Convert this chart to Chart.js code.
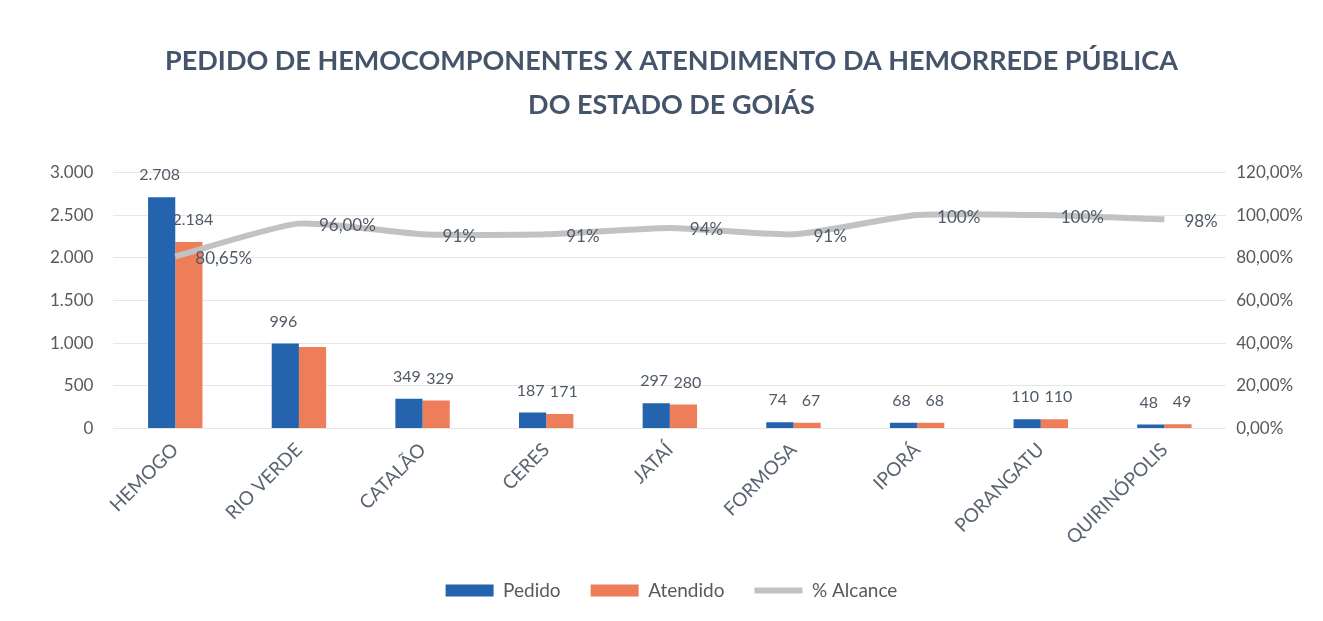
<!DOCTYPE html>
<html lang="pt-BR">
<head>
<meta charset="utf-8">
<title>Pedido de hemocomponentes x atendimento</title>
<script src="https://cdn.jsdelivr.net/npm/chart.js@4/dist/chart.umd.min.js"></script>
<style>
  html, body { margin: 0; padding: 0; background: #ffffff; }
  #wrap { width: 1323px; height: 621px; }
</style>
</head>
<body>
<div id="wrap"><canvas id="chart"></canvas></div>
<script>
// Dados
var unidades = ['HEMOGO', 'RIO VERDE', 'CATALÃO', 'CERES', 'JATAÍ', 'FORMOSA', 'IPORÁ', 'PORANGATU', 'QUIRINÓPOLIS'];
var pedido = [2708, 996, 349, 187, 297, 74, 68, 110, 48];
var atendido = [2184, 956, 329, 171, 280, 67, 68, 110, 49];
var alcance = [0.8065, 0.96, 0.91, 0.91, 0.94, 0.91, 1.00, 1.00, 0.98];
var rotulosAlcance = ['80,65%', '96,00%', '91%', '91%', '94%', '91%', '100%', '100%', '98%'];
var rotulosAtendido = ['2.184', '', '329', '171', '280', '67', '68', '110', '49'];

var AZUL = '#2463AE';
var LARANJA = '#EE7D5A';
var CINZA = '#C2C2C2';
var TEXTO = '#595959';
var FONTE = 'Lato, "Open Sans", sans-serif';

var fmtMil = function (v) {
  return Math.round(v).toString().replace(/\B(?=(\d{3})+(?!\d))/g, '.');
};
var fmtPct = function (v) {
  return (v * 100).toFixed(2).replace('.', ',') + '%';
};

// rótulos de dados desenhados a partir dos elementos do próprio gráfico
var rotulos = {
  id: 'rotulos',
  afterDatasetsDraw: function (chart) {
    var ctx = chart.ctx;
    ctx.save();
    ctx.fillStyle = '#505a66';
    chart.data.datasets.forEach(function (ds, di) {
      var meta = chart.getDatasetMeta(di);
      meta.data.forEach(function (el, i) {
        var txt;
        if (ds.type === 'line') {
          txt = rotulosAlcance[i];
          ctx.font = '17px ' + FONTE;
          ctx.textAlign = 'left';
          ctx.textBaseline = 'middle';
          ctx.fillText(txt, el.x + 20, el.y + 2);
        } else {
          txt = di === 0 ? fmtMil(ds.data[i]) : rotulosAtendido[i];
          if (!txt) return;
          ctx.font = '16px ' + FONTE;
          ctx.textAlign = 'center';
          ctx.textBaseline = 'bottom';
          // o par de rótulos fica um pouco afastado, como no original
          ctx.fillText(txt, el.x + (di === 0 ? -2 : 4), el.y - 14);
        }
      });
    });
    ctx.restore();
  }
};

new Chart(document.getElementById('chart'), {
  data: {
    labels: unidades,
    datasets: [
      {
        type: 'bar', label: 'Pedido', data: pedido, yAxisID: 'y',
        backgroundColor: AZUL, pointStyle: 'rect', order: 2,
        categoryPercentage: 0.44, barPercentage: 1.0,
      },
      {
        type: 'bar', label: 'Atendido', data: atendido, yAxisID: 'y',
        backgroundColor: LARANJA, pointStyle: 'rect', order: 2,
        categoryPercentage: 0.44, barPercentage: 1.0,
      },
      {
        type: 'line', label: '% Alcance', data: alcance, yAxisID: 'y1',
        borderColor: CINZA, backgroundColor: CINZA, borderWidth: 6,
        pointRadius: 0, pointStyle: 'line', tension: 0.2, order: 1,
      }
    ]
  },
  options: {
    responsive: true, maintainAspectRatio: false, animation: false,
    layout: {padding: {left: 30, right: 10, top: 0, bottom: 11}},
    plugins: {
      title: {
        display: true,
        text: ['PEDIDO DE HEMOCOMPONENTES X ATENDIMENTO DA HEMORREDE PÚBLICA', 'DO ESTADO DE GOIÁS'],
        color: '#44546A',
        font: {family: FONTE, size: 27, weight: 'bold', lineHeight: 1.6},
        padding: {top: 40, bottom: 46},
      },
      legend: {
        position: 'bottom',
        labels: {
          usePointStyle: true, pointStyleWidth: 48, boxHeight: 12,
          color: TEXTO, font: {family: FONTE, size: 19}, padding: 30,
          sort: function (a, b) { return a.datasetIndex - b.datasetIndex; },
        },
      },
      tooltip: {enabled: false},
    },
    scales: {
      x: {
        grid: {display: false},
        border: {display: false},
        ticks: {
          color: '#5a6472', maxRotation: 45, minRotation: 45, padding: 2,
          font: {family: FONTE, size: 19},
        },
      },
      y: {
        position: 'left', min: 0, max: 3000,
        ticks: {stepSize: 500, color: TEXTO, font: {family: FONTE, size: 17}, padding: 20,
          callback: function (v) { return fmtMil(v); }},
        grid: {color: '#e6e6e6', drawTicks: false},
        border: {display: false},
      },
      y1: {
        position: 'right', min: 0, max: 1.2,
        ticks: {stepSize: 0.2, color: TEXTO, font: {family: FONTE, size: 17}, padding: 10,
          callback: function (v) { return fmtPct(v); }},
        grid: {display: false, drawTicks: false},
        border: {display: false},
      },
    },
  },
  plugins: [rotulos],
});
</script>
</body>
</html>
